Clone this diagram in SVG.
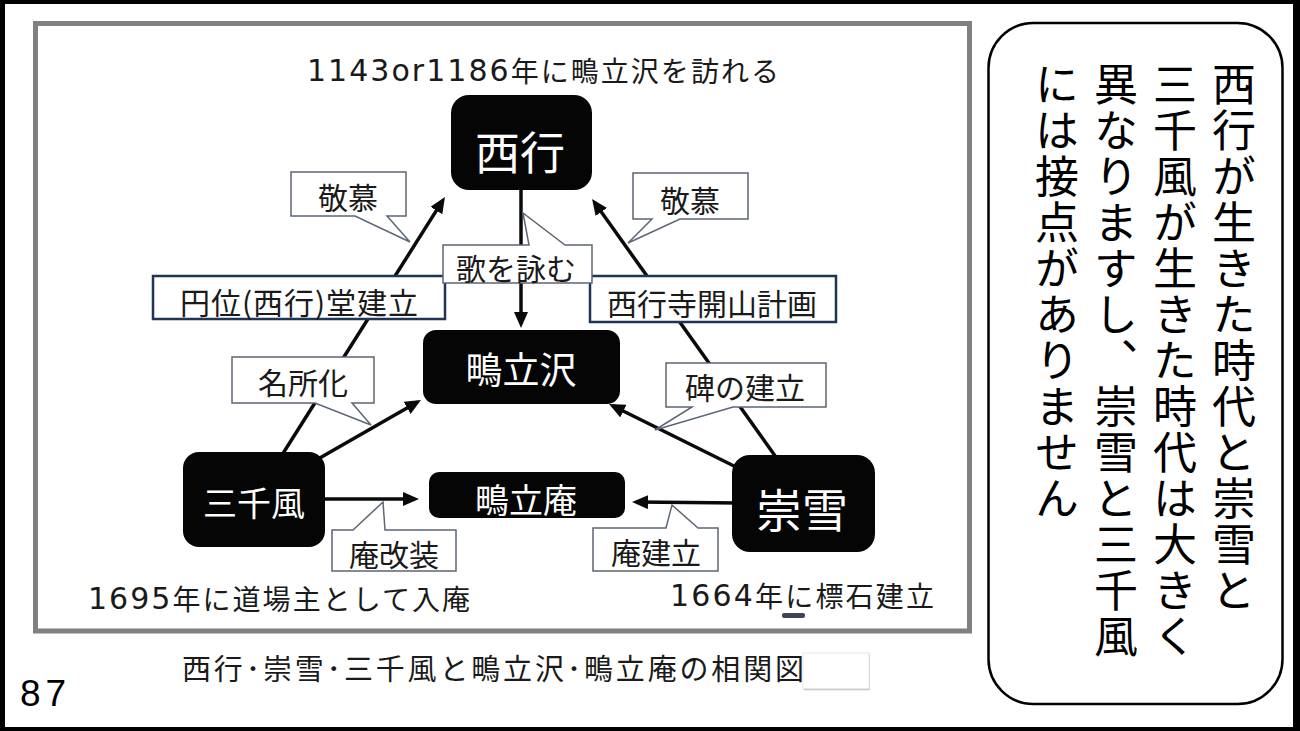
<svg xmlns="http://www.w3.org/2000/svg" width="1300" height="731" viewBox="0 0 1300 731">
<style>
text{font-family:"Noto Sans CJK JP","Noto Sans",sans-serif;fill:#1a1a1a}
.node rect{fill:#050505}
.node text{fill:#fff;text-anchor:middle;dominant-baseline:central}
.co path{fill:#fff;stroke:#5c6676;stroke-width:1.5}
.co text{text-anchor:middle;dominant-baseline:central;font-size:30px}
.bx rect{fill:#fff;stroke:#1f3557;stroke-width:2.5}
.bx text{text-anchor:middle;dominant-baseline:central;font-size:30px}
.cn line{stroke:#0a0a0a;stroke-width:3.5;marker-end:url(#ah)}
.lbl{font-size:28px;dominant-baseline:central}
.dg{font-family:"DejaVu Sans","Noto Sans CJK JP",sans-serif;font-size:30px}
.vt{writing-mode:vertical-rl;font-size:44px;letter-spacing:2px;fill:#000}
</style>
<defs>
<marker id="ah" markerUnits="userSpaceOnUse" markerWidth="16" markerHeight="14" refX="12" refY="7" orient="auto">
<path d="M0,0 L16,7 L0,14 z" fill="#0a0a0a"/>
</marker>
</defs>
<rect x="0" y="0" width="1300" height="731" fill="#000"/>
<rect x="5" y="4" width="1288" height="723" fill="#fff"/>
<rect x="35.5" y="23.5" width="934" height="607.5" fill="#fff" stroke="#808080" stroke-width="5"/>

<text class="lbl" x="307" y="70" textLength="472"><tspan class="dg">1143or1186</tspan>年に鴫立沢を訪れる</text>
<text class="lbl" x="88" y="598" textLength="382"><tspan class="dg">1695</tspan>年に道場主として入庵</text>
<text class="lbl" x="670" y="595" textLength="264"><tspan class="dg">1664</tspan>年に標石建立</text>
<rect x="782" y="613" width="23" height="5" rx="2" fill="#3e4656"/>

<g id="connectors" class="cn">
<line x1="521" y1="180" x2="521" y2="324"/>
<line x1="282" y1="455" x2="442.8" y2="200.4"/>
<line x1="778" y1="460" x2="594.4" y2="202.2"/>
<line x1="318" y1="459" x2="417.5" y2="402"/>
<line x1="738" y1="468" x2="612.6" y2="405.8"/>
<line x1="320" y1="499" x2="415" y2="499"/>
<line x1="740" y1="503" x2="636" y2="502"/>
</g>

<g id="node-saigyo" class="node"><rect x="451" y="95" width="141" height="95" rx="18"/><text x="520" y="150" style="font-size:45px">西行</text></g>
<g id="node-shigitatsusawa" class="node"><rect x="423" y="330" width="197" height="74" rx="13"/><text x="521" y="368" style="font-size:37px">鴫立沢</text></g>
<g id="node-michikaze" class="node"><rect x="183" y="452" width="142" height="95" rx="16"/><text x="254" y="501" style="font-size:34px">三千風</text></g>
<g id="node-shigitatsuan" class="node"><rect x="429" y="472" width="196" height="46" rx="10"/><text x="526" y="498" style="font-size:34px">鴫立庵</text></g>
<g id="node-sosetsu" class="node"><rect x="732" y="455" width="143" height="97" rx="18"/><text x="802" y="507" style="font-size:46px">崇雪</text></g>

<g id="callout-keibo-left" class="co"><path d="M291,172 H406 V216 H387 L410,242 L355,216 H291 Z"/><text x="348" y="196">敬慕</text></g>
<g id="callout-keibo-right" class="co"><path d="M633,173 H748 V219 H680 L628,243 L652,219 H633 Z"/><text x="690" y="199">敬慕</text></g>
<g id="box-eni" class="bx"><rect x="153" y="276" width="292" height="43"/><text x="299" y="301" textLength="238">円位(西行)堂建立</text></g>
<g id="box-saigyoji" class="bx"><rect x="590" y="276" width="246" height="46"/><text x="712" y="302">西行寺開山計画</text></g>
<g id="callout-uta" class="co"><path d="M443,245 H529 L523,213 L565,245 H592 V283 H443 Z"/><text x="516" y="267">歌を詠む</text></g>
<g id="callout-meisho" class="co"><path d="M232,357 H374 V403 H352 L371,425 L315,403 H232 Z"/><text x="303" y="381">名所化</text></g>
<g id="callout-hi" class="co"><path d="M666,363 H826 V407 H733 L655,430 L692,407 H666 Z"/><text x="745" y="386">碑の建立</text></g>
<g id="callout-kaiso" class="co"><path d="M332,530 H353 L383,502 L385,530 H456 V571 H332 Z"/><text x="394" y="553">庵改装</text></g>
<g id="callout-konryu" class="co"><path d="M593,528 H666 L672,505 L698,528 H718 V571 H593 Z"/><text x="656" y="551">庵建立</text></g>

<text x="182" y="667" style="font-size:29px;dominant-baseline:central" textLength="622">西行･崇雪･三千風と鴫立沢･鴫立庵の相関図</text>
<rect x="803" y="653" width="66" height="36" fill="#fff" stroke="#e6e6e6" stroke-width="1"/>
<line x1="804" y1="689.5" x2="869.5" y2="689.5" stroke="#c8c8c8" stroke-width="1.5"/>
<line x1="869.5" y1="654" x2="869.5" y2="689.5" stroke="#d8d8d8" stroke-width="1"/>
<text x="20" y="706" style="font-family:'Liberation Sans',sans-serif;font-size:37px;fill:#000" textLength="46">87</text>

<g id="note">
<rect x="988.5" y="23" width="294" height="681" rx="45" fill="#fff" stroke="#000" stroke-width="2.5"/>
<text class="vt" x="1234" y="62">西行が生きた時代と崇雪と</text>
<text class="vt" x="1175" y="62">三千風が生きた時代は大きく</text>
<text class="vt" x="1116" y="62">異なりますし、崇雪と三千風</text>
<text class="vt" x="1057" y="62">には接点がありません</text>
</g>
</svg>
